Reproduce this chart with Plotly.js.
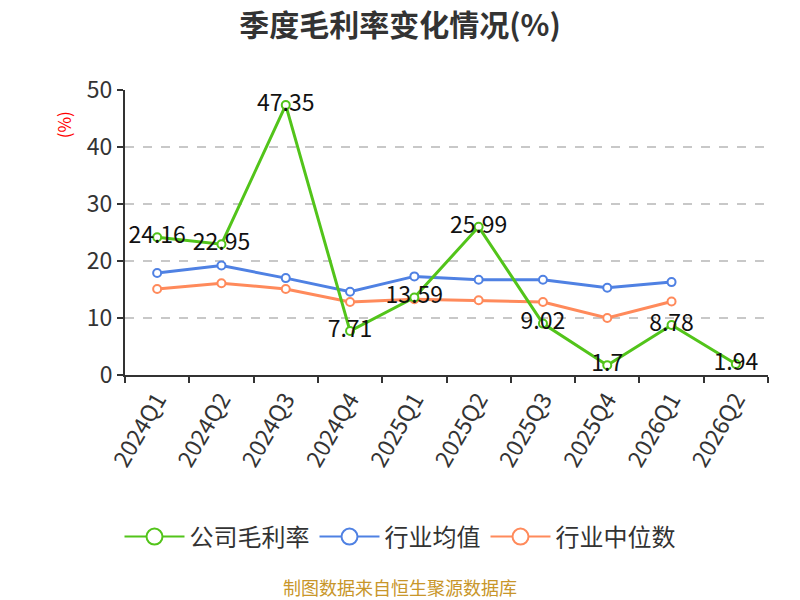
<!DOCTYPE html>
<html>
<head>
<meta charset="utf-8">
<script src="https://cdn.plot.ly/plotly-3.0.1.min.js"></script>
<style>
    html, body { margin: 0; padding: 0; background: #fff; }
    #chart { width: 800px; height: 600px; }
</style>
</head>
<body>
<div id="chart"></div>
<script>
const quarters = ['2024Q1', '2024Q2', '2024Q3', '2024Q4', '2025Q1', '2025Q2', '2025Q3', '2025Q4', '2026Q1', '2026Q2'];
const companyMargin = [24.16, 22.95, 47.35, 7.71, 13.59, 25.99, 9.02, 1.7, 8.78, 1.94];
const industryAvg = [17.9, 19.2, 17.0, 14.6, 17.3, 16.7, 16.7, 15.3, 16.3];
const industryMedian = [15.1, 16.1, 15.1, 12.8, 13.3, 13.1, 12.8, 10.0, 12.9];
const seriesNames = ['公司毛利率', '行业均值', '行业中位数'];
const colors = ['#52c41a', '#4f81e3', '#ff8a5b'];

const font = 'Noto Sans CJK SC, sans-serif';

function lineTrace(y, i) {
    return {
        x: quarters.slice(0, y.length),
        y: y,
        mode: 'lines+markers',
        type: 'scatter',
        name: seriesNames[i],
        showlegend: false,
        line: { color: colors[i], width: 3 },
        marker: { symbol: 'circle', size: 8, color: '#fff', line: { color: colors[i], width: 2 } },
        hoverinfo: 'skip'
    };
}

// legend-only copies with bigger markers
function legendTrace(i) {
    return {
        x: [null],
        y: [null],
        mode: 'lines+markers',
        type: 'scatter',
        name: seriesNames[i],
        line: { color: colors[i], width: 2 },
        marker: { symbol: 'circle', size: 22, color: '#fff', line: { color: colors[i], width: 2 } }
    };
}

const data = [
    lineTrace(industryMedian, 2),
    lineTrace(industryAvg, 1),
    lineTrace(companyMargin, 0),
    {
        x: quarters,
        y: companyMargin,
        mode: 'text',
        type: 'scatter',
        text: companyMargin.map(String),
        textposition: 'middle center',
        textfont: { size: 23, color: '#111', family: font },
        showlegend: false,
        hoverinfo: 'skip'
    },
    legendTrace(0),
    legendTrace(1),
    legendTrace(2)
];

const layout = {
    width: 800,
    height: 600,
    margin: { l: 125, r: 32, t: 90, b: 225 },
    paper_bgcolor: '#fff',
    plot_bgcolor: '#fff',
    font: { family: font, color: '#333' },
    title: {
        text: '<b>季度毛利率变化情况(%)</b>',
        font: { size: 30, color: '#333', family: font },
        x: 0.5,
        xanchor: 'center',
        xref: 'container',
        y: 0.958,
        yanchor: 'middle'
    },
    xaxis: {
        type: 'category',
        range: [-0.5, 9.5],
        tickson: 'boundaries',
        ticks: 'outside',
        ticklen: 6,
        tickwidth: 2,
        tickcolor: '#333',
        tickangle: -60,
        tickfont: { size: 23, color: '#333', family: font },
        showline: true,
        linecolor: '#333',
        linewidth: 2,
        showgrid: false,
        zeroline: false,
        automargin: false,
        fixedrange: true
    },
    yaxis: {
        range: [0, 50],
        tickvals: [0, 10, 20, 30, 40, 50],
        ticks: 'outside',
        ticklen: 6,
        tickwidth: 2,
        tickcolor: '#333',
        tickfont: { size: 23, color: '#333', family: font },
        showline: true,
        linecolor: '#333',
        linewidth: 2,
        showgrid: true,
        gridcolor: '#c8c8c8',
        griddash: 'dash',
        gridwidth: 1.5,
        zeroline: false,
        automargin: false,
        fixedrange: true
    },
    legend: {
        orientation: 'h',
        x: 0.5,
        xanchor: 'center',
        xref: 'container',
        y: 0.105,
        yanchor: 'middle',
        yref: 'container',
        font: { size: 24, color: '#333', family: font },
        itemwidth: 60
    },
    annotations: [
        {
            text: '(%)',
            xref: 'paper',
            yref: 'paper',
            x: -0.096,
            y: 0.877,
            xanchor: 'center',
            yanchor: 'middle',
            textangle: -90,
            showarrow: false,
            font: { size: 17, color: '#f00', family: font }
        },
        {
            text: '制图数据来自恒生聚源数据库',
            xref: 'paper',
            yref: 'paper',
            x: 0.428,
            y: -0.745,
            xanchor: 'center',
            yanchor: 'middle',
            showarrow: false,
            font: { size: 18, color: '#c8962a', family: font }
        }
    ]
};

const config = { responsive: false, displayModeBar: false, staticPlot: true };

Plotly.newPlot('chart', data, layout, config);
</script>
</body>
</html>
